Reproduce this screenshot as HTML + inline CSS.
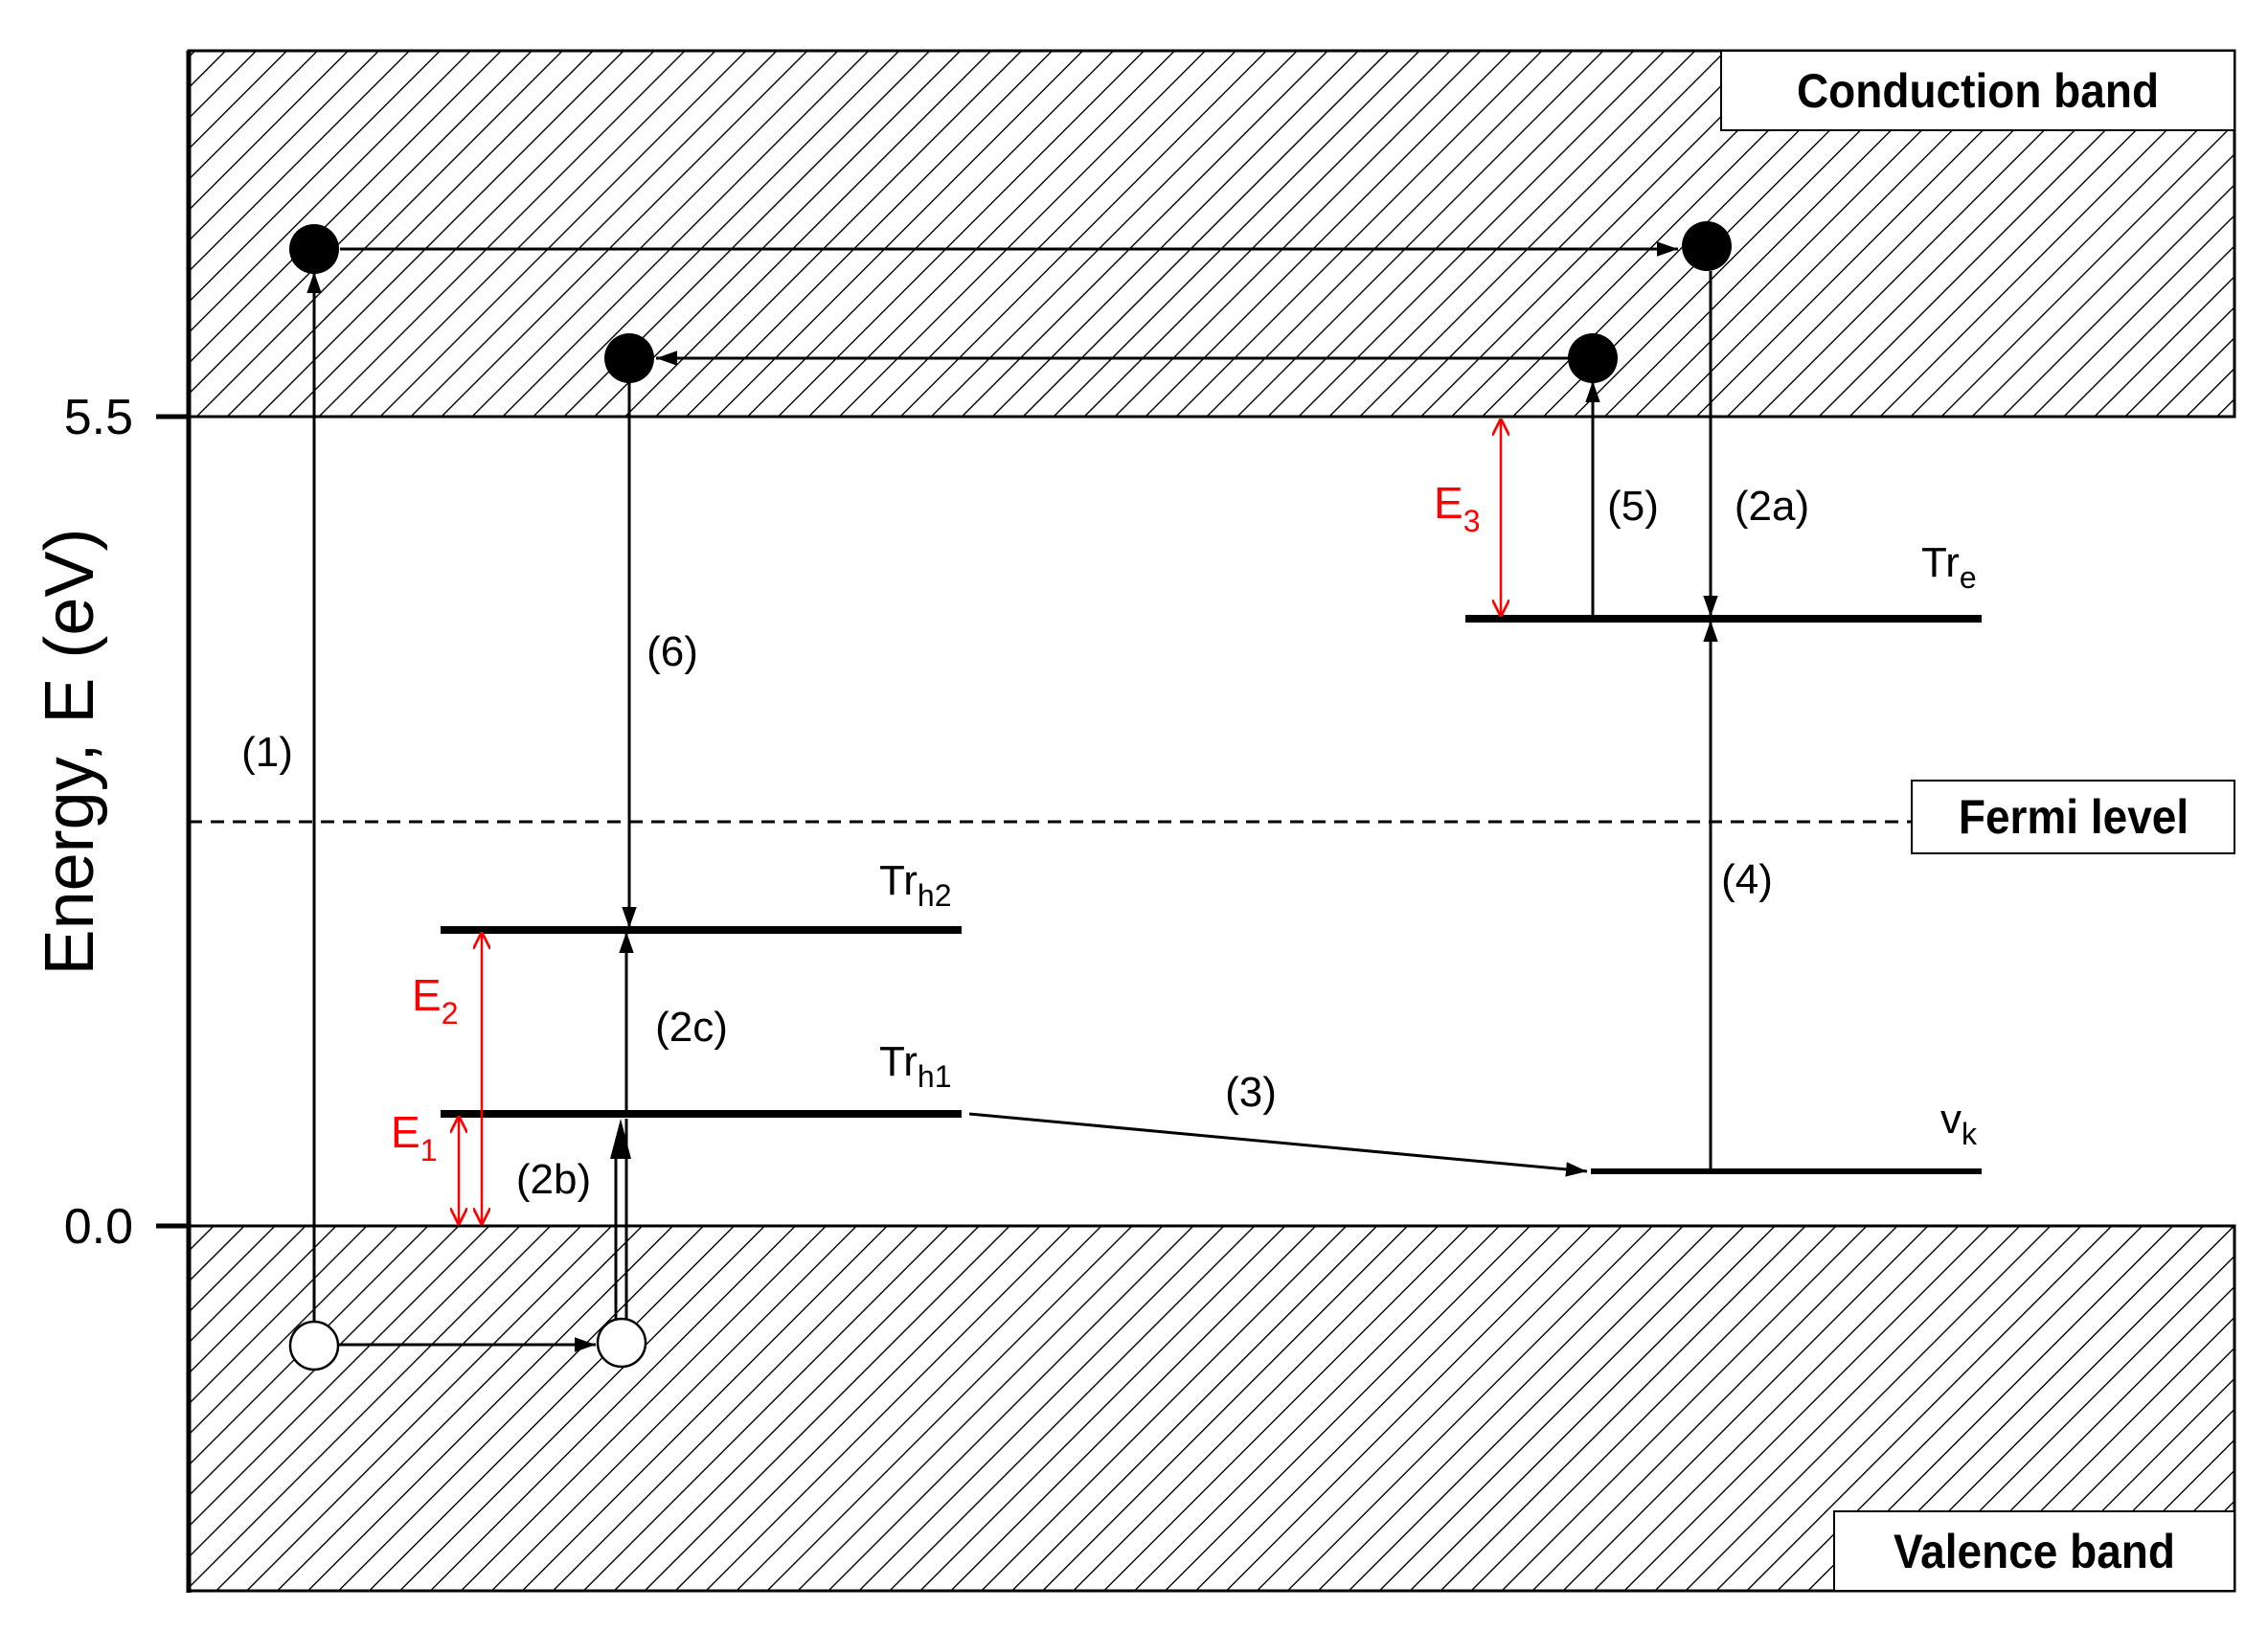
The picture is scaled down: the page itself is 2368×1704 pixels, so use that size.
<!DOCTYPE html>
<html><head><meta charset="utf-8"><style>html,body{margin:0;padding:0;background:#fff}svg{display:block}</style></head>
<body>
<svg width="2368" height="1704" viewBox="0 0 2368 1704" xmlns="http://www.w3.org/2000/svg" font-family="Liberation Sans, Arial, sans-serif">
<defs>
<pattern id="h" patternUnits="userSpaceOnUse" width="22.6" height="22.6" patternTransform="rotate(45)">
<line x1="0" y1="0" x2="0" y2="22.6" stroke="#000" stroke-width="2.8"/>
</pattern>
<marker id="ab" viewBox="0 0 10 10" refX="10" refY="5" markerWidth="22" markerHeight="22" markerUnits="userSpaceOnUse" orient="auto-start-reverse"><path d="M0,1.5 L10,5 L0,8.5 z" fill="#000"/></marker>
<marker id="r" viewBox="0 0 10 10" refX="10" refY="5" markerWidth="18" markerHeight="18" markerUnits="userSpaceOnUse" orient="auto-start-reverse"><path d="M0,0 L10,5 L0,10" fill="none" stroke="#f00" stroke-width="1.5"/></marker>
</defs>
<rect x="197" y="53" width="2136" height="382" fill="url(#h)" stroke="#000" stroke-width="3"/>
<rect x="197" y="1280" width="2136" height="381" fill="url(#h)" stroke="#000" stroke-width="3"/>
<line x1="197" y1="53" x2="197" y2="1663" stroke="#000" stroke-width="5"/>
<line x1="163" y1="435" x2="197" y2="435" stroke="#000" stroke-width="5"/>
<line x1="163" y1="1280" x2="197" y2="1280" stroke="#000" stroke-width="5"/>
<text x="139" y="453" font-size="52" text-anchor="end">5.5</text>
<text x="139" y="1298" font-size="52" text-anchor="end">0.0</text>
<text transform="translate(97,785) rotate(-90)" font-size="72" text-anchor="middle">Energy, E (eV)</text>
<rect x="1797" y="53" width="536" height="83" fill="#fff" stroke="#000" stroke-width="2"/>
<text transform="translate(2065,112) scale(0.92,1)" font-size="50" font-weight="bold" text-anchor="middle">Conduction band</text>
<line x1="197" y1="858" x2="1996" y2="858" stroke="#000" stroke-width="3" stroke-dasharray="14,9"/>
<rect x="1996" y="815" width="337" height="76" fill="#fff" stroke="#000" stroke-width="2"/>
<text transform="translate(2165,870) scale(0.92,1)" font-size="50" font-weight="bold" text-anchor="middle">Fermi level</text>
<rect x="1915" y="1578" width="418" height="83" fill="#fff" stroke="#000" stroke-width="2"/>
<text transform="translate(2124,1637) scale(0.92,1)" font-size="50" font-weight="bold" text-anchor="middle">Valence band</text>
<line x1="460" y1="971" x2="1004" y2="971" stroke="#000" stroke-width="8"/>
<line x1="460" y1="1163" x2="1004" y2="1163" stroke="#000" stroke-width="8"/>
<line x1="1530" y1="646" x2="2069" y2="646" stroke="#000" stroke-width="8"/>
<line x1="1661" y1="1223" x2="2069" y2="1223" stroke="#000" stroke-width="6"/>
<line x1="328" y1="1380" x2="328" y2="284" stroke="#000" stroke-width="3" marker-end="url(#ab)"/>
<line x1="353" y1="1404" x2="622" y2="1404" stroke="#000" stroke-width="3" marker-end="url(#ab)"/>
<line x1="643" y1="1380" x2="643" y2="1200" stroke="#000" stroke-width="3"/>
<line x1="654" y1="1380" x2="654" y2="1168" stroke="#000" stroke-width="3"/>
<path d="M637,1210 L648,1168 L659,1210 z" fill="#000"/>
<line x1="654" y1="1160" x2="654" y2="973" stroke="#000" stroke-width="3" marker-end="url(#ab)"/>
<line x1="657" y1="400" x2="657" y2="969" stroke="#000" stroke-width="3" marker-end="url(#ab)"/>
<line x1="355" y1="260" x2="1752" y2="260" stroke="#000" stroke-width="3" marker-end="url(#ab)"/>
<line x1="1638" y1="374" x2="685" y2="374" stroke="#000" stroke-width="3" marker-end="url(#ab)"/>
<line x1="1012" y1="1163" x2="1657" y2="1223" stroke="#000" stroke-width="3" marker-end="url(#ab)"/>
<line x1="1786" y1="283" x2="1786" y2="644" stroke="#000" stroke-width="3" marker-end="url(#ab)"/>
<line x1="1786" y1="1223" x2="1786" y2="648" stroke="#000" stroke-width="3" marker-end="url(#ab)"/>
<line x1="1663" y1="646" x2="1663" y2="398" stroke="#000" stroke-width="3" marker-end="url(#ab)"/>
<line x1="503" y1="973" x2="503" y2="1279" stroke="#f00" stroke-width="2.5" marker-start="url(#r)" marker-end="url(#r)"/>
<line x1="479" y1="1165" x2="479" y2="1279" stroke="#f00" stroke-width="2.5" marker-start="url(#r)" marker-end="url(#r)"/>
<line x1="1567" y1="437" x2="1567" y2="644" stroke="#f00" stroke-width="2.5" marker-start="url(#r)" marker-end="url(#r)"/>
<circle cx="328" cy="260" r="26" fill="#000"/>
<circle cx="1782" cy="257" r="26" fill="#000"/>
<circle cx="657" cy="374" r="26" fill="#000"/>
<circle cx="1663" cy="374" r="26" fill="#000"/>
<circle cx="328" cy="1405" r="25" fill="#fff" stroke="#000" stroke-width="2.5"/>
<circle cx="649" cy="1402" r="25" fill="#fff" stroke="#000" stroke-width="2.5"/>
<g font-size="44" text-anchor="middle">
<text x="279" y="800">(1)</text>
<text x="578" y="1246">(2b)</text>
<text x="722" y="1087">(2c)</text>
<text x="702" y="695">(6)</text>
<text x="1306" y="1155">(3)</text>
<text x="1824" y="933">(4)</text>
<text x="1850" y="543">(2a)</text>
<text x="1705" y="543">(5)</text>
</g>
<g font-size="44">
<text x="918" y="934">Tr<tspan font-size="32" dy="12">h2</tspan></text>
<text x="918" y="1123">Tr<tspan font-size="32" dy="12">h1</tspan></text>
<text x="2006" y="602">Tr<tspan font-size="32" dy="12">e</tspan></text>
<text x="2026" y="1183">v<tspan font-size="32" dy="12">k</tspan></text>
</g>
<g font-size="46" fill="#f00">
<text x="430" y="1055">E<tspan font-size="32" dy="14">2</tspan></text>
<text x="408" y="1198">E<tspan font-size="32" dy="14">1</tspan></text>
<text x="1497" y="541">E<tspan font-size="32" dy="14">3</tspan></text>
</g>
</svg>
</body></html>
